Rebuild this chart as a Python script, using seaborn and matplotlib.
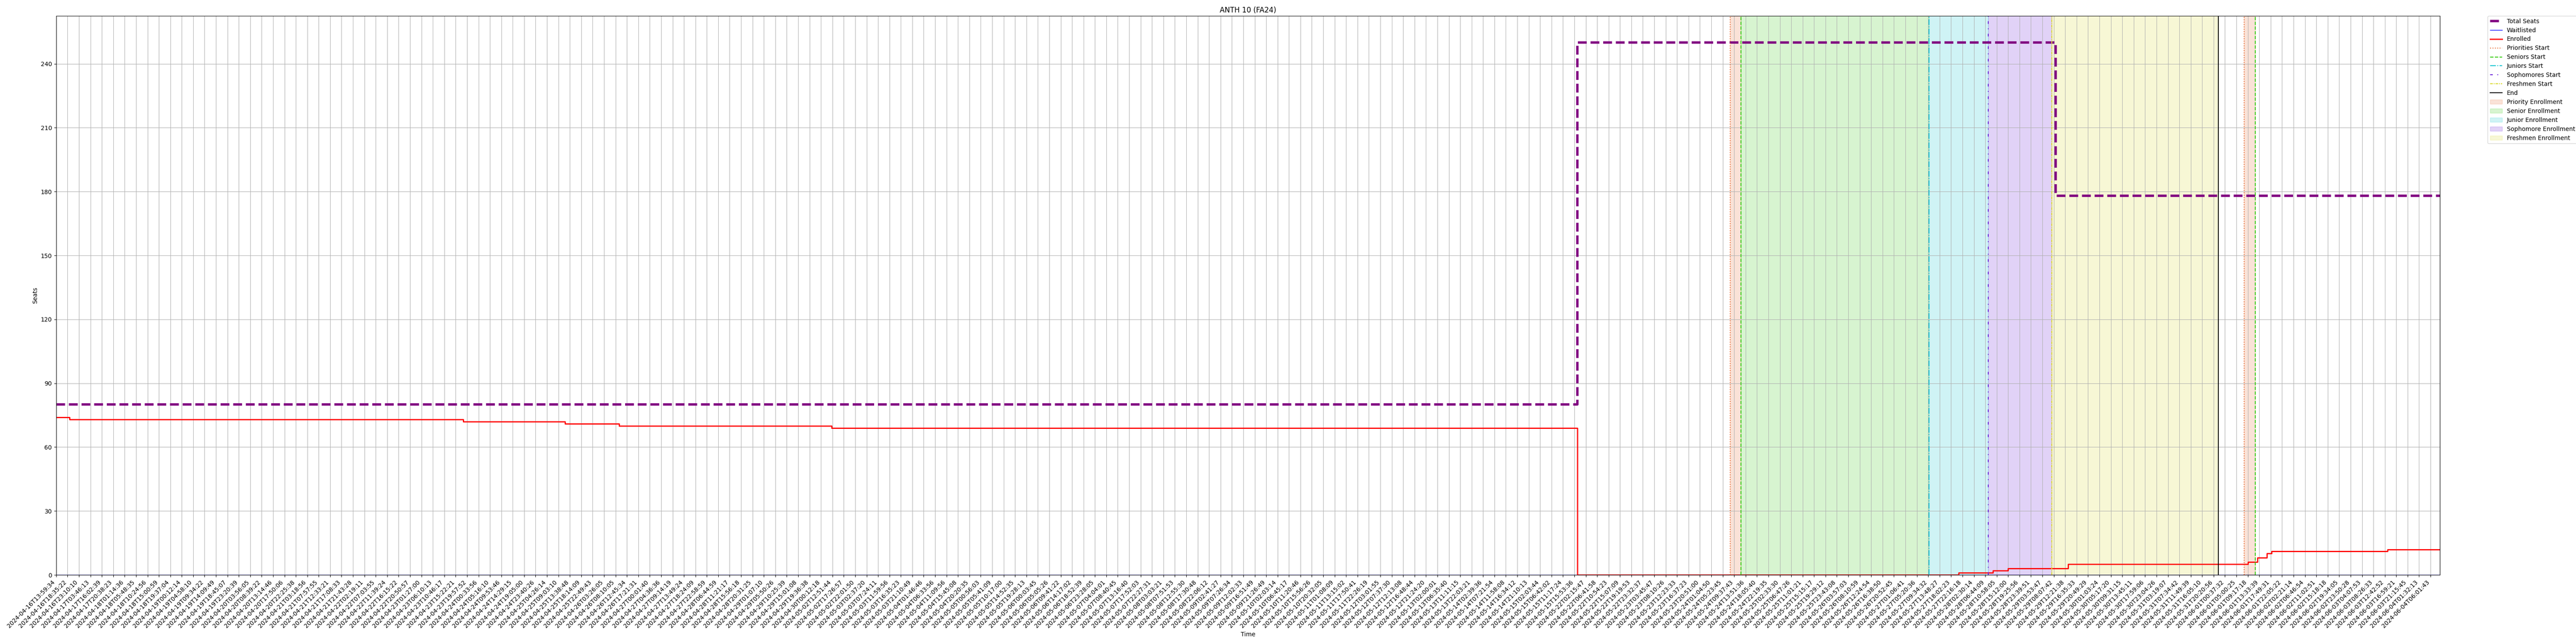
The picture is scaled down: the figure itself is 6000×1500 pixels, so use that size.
import numpy as np
import pandas as pd
import matplotlib
matplotlib.use("Agg")
import matplotlib.pyplot as plt
import seaborn as sns

# Snapshot index runs 0..2506, one tick label every 12 snapshots.
n_samples = 2507
tick_step = 12

tick_labels = [
    "2024-04-16T13:59:34", "2024-04-16T18:35:22", "2024-04-16T23:10:10", "2024-04-17T03:46:13",
    "2024-04-17T16:02:39", "2024-04-17T20:38:23", "2024-04-18T01:14:36", "2024-04-18T05:48:35",
    "2024-04-18T10:24:56", "2024-04-18T15:00:59", "2024-04-18T19:37:04", "2024-04-19T00:12:14",
    "2024-04-19T04:58:10", "2024-04-19T09:34:22", "2024-04-19T14:09:49", "2024-04-19T18:45:07",
    "2024-04-19T23:20:39", "2024-04-20T03:56:05", "2024-04-20T08:39:22", "2024-04-20T13:14:46",
    "2024-04-20T17:50:06", "2024-04-20T22:25:38", "2024-04-21T03:18:56", "2024-04-21T07:57:55",
    "2024-04-21T12:33:21", "2024-04-21T17:08:33", "2024-04-21T21:43:28", "2024-04-22T02:19:11",
    "2024-04-22T07:03:55", "2024-04-22T11:39:24", "2024-04-22T16:15:22", "2024-04-22T20:50:57",
    "2024-04-23T01:27:00", "2024-04-23T06:10:13", "2024-04-23T10:46:17", "2024-04-23T15:22:21",
    "2024-04-23T19:57:52", "2024-04-24T00:33:56", "2024-04-24T05:16:10", "2024-04-24T09:53:46",
    "2024-04-24T14:29:15", "2024-04-24T19:05:00", "2024-04-24T23:40:26", "2024-04-25T04:26:14",
    "2024-04-25T09:03:10", "2024-04-25T13:38:48", "2024-04-25T18:14:09", "2024-04-25T22:49:43",
    "2024-04-26T03:26:05", "2024-04-26T08:10:05", "2024-04-26T12:45:34", "2024-04-26T17:21:31",
    "2024-04-27T00:01:40", "2024-04-27T04:36:36", "2024-04-27T09:14:19", "2024-04-27T13:49:24",
    "2024-04-27T18:24:09", "2024-04-27T22:58:59", "2024-04-28T06:44:59", "2024-04-28T11:21:17",
    "2024-04-28T15:56:18", "2024-04-28T20:31:25", "2024-04-29T01:07:10", "2024-04-29T05:50:26",
    "2024-04-29T10:25:39", "2024-04-29T15:01:08", "2024-04-29T19:36:38", "2024-04-30T00:12:18",
    "2024-05-02T12:51:44", "2024-05-02T17:26:57", "2024-05-02T22:01:50", "2024-05-03T02:37:20",
    "2024-05-03T07:24:11", "2024-05-03T11:59:56", "2024-05-03T16:35:23", "2024-05-03T21:10:49",
    "2024-05-04T01:46:46", "2024-05-04T06:33:56", "2024-05-04T11:09:56", "2024-05-04T15:45:08",
    "2024-05-04T20:20:35", "2024-05-05T00:56:03", "2024-05-05T05:41:09", "2024-05-05T10:17:00",
    "2024-05-05T14:52:35", "2024-05-05T19:28:13", "2024-05-06T00:03:45", "2024-05-06T05:05:26",
    "2024-05-06T09:41:22", "2024-05-06T14:17:02", "2024-05-06T18:52:39", "2024-05-06T23:28:05",
    "2024-05-07T04:04:01", "2024-05-07T08:40:45", "2024-05-07T13:16:40", "2024-05-07T17:52:03",
    "2024-05-07T22:27:31", "2024-05-08T03:03:21", "2024-05-08T07:51:53", "2024-05-08T12:55:30",
    "2024-05-08T17:30:48", "2024-05-08T22:06:12", "2024-05-09T02:41:27", "2024-05-09T07:26:34",
    "2024-05-09T12:02:33", "2024-05-09T16:51:49", "2024-05-09T21:26:49", "2024-05-10T02:03:14",
    "2024-05-10T06:45:17", "2024-05-10T11:20:46", "2024-05-10T15:56:26", "2024-05-10T20:32:05",
    "2024-05-11T01:08:09", "2024-05-11T13:15:02", "2024-05-11T17:50:41", "2024-05-11T22:26:19",
    "2024-05-12T03:01:55", "2024-05-12T07:37:30", "2024-05-12T12:13:08", "2024-05-12T16:48:44",
    "2024-05-12T21:24:20", "2024-05-13T02:00:01", "2024-05-13T06:35:40", "2024-05-13T11:11:15",
    "2024-05-13T22:03:21", "2024-05-14T02:39:36", "2024-05-14T07:21:54", "2024-05-14T11:58:08",
    "2024-05-14T16:34:12", "2024-05-14T21:10:13", "2024-05-15T02:03:44", "2024-05-15T06:42:02",
    "2024-05-15T11:17:24", "2024-05-15T15:53:36", "2024-05-22T02:15:47", "2024-05-22T06:41:58",
    "2024-05-22T10:54:23", "2024-05-22T15:07:09", "2024-05-22T19:19:53", "2024-05-22T23:32:37",
    "2024-05-23T03:45:47", "2024-05-23T08:10:26", "2024-05-23T12:23:33", "2024-05-23T16:37:23",
    "2024-05-23T20:51:00", "2024-05-24T01:04:50", "2024-05-24T05:23:45", "2024-05-24T09:37:43",
    "2024-05-24T13:51:36", "2024-05-24T18:05:40", "2024-05-24T22:19:35", "2024-05-25T02:33:30",
    "2024-05-25T06:47:26", "2024-05-25T11:01:21", "2024-05-25T15:15:17", "2024-05-25T19:29:12",
    "2024-05-25T23:43:08", "2024-05-26T03:57:03", "2024-05-26T08:10:59", "2024-05-26T12:24:54",
    "2024-05-26T16:38:50", "2024-05-26T20:52:45", "2024-05-27T01:06:41", "2024-05-27T05:20:36",
    "2024-05-27T09:34:32", "2024-05-27T13:48:27", "2024-05-27T18:02:23", "2024-05-27T22:16:18",
    "2024-05-28T02:30:14", "2024-05-28T06:44:09", "2024-05-28T10:58:05", "2024-05-28T15:12:00",
    "2024-05-28T19:25:56", "2024-05-28T23:39:51", "2024-05-29T03:53:47", "2024-05-29T08:07:42",
    "2024-05-29T12:21:38", "2024-05-29T16:35:33", "2024-05-29T20:49:29", "2024-05-30T01:03:24",
    "2024-05-30T05:17:20", "2024-05-30T09:31:15", "2024-05-30T13:45:11", "2024-05-30T17:59:06",
    "2024-05-30T23:04:26", "2024-05-31T03:19:07", "2024-05-31T07:34:42", "2024-05-31T11:49:39",
    "2024-05-31T16:05:10", "2024-05-31T20:20:56", "2024-06-01T00:37:32", "2024-06-01T05:00:25",
    "2024-06-01T09:17:18", "2024-06-01T13:33:39", "2024-06-01T17:49:31", "2024-06-01T22:05:22",
    "2024-06-02T02:21:14", "2024-06-02T06:46:54", "2024-06-02T11:02:51", "2024-06-02T15:18:18",
    "2024-06-02T19:34:05", "2024-06-02T23:50:28", "2024-06-03T04:07:53", "2024-06-03T08:26:33",
    "2024-06-03T12:42:52", "2024-06-03T16:59:21", "2024-06-03T21:15:45", "2024-06-04T01:32:13",
    "2024-06-04T06:01:43",
]

# Step series: snapshot index where the value changes, and the new value.
total_seats_idx = [0, 1599, 2102]
total_seats_val = [80, 250, 178]

enrolled_idx = [0, 14, 428, 535, 592, 815, 1599, 2000, 2036, 2052, 2115, 2304, 2314, 2324, 2329, 2451]
enrolled_val = [74, 73, 72, 71, 70, 69, 0, 1, 2, 3, 5, 6, 8, 10, 11, 12]

waitlisted_idx = [0]
waitlisted_val = [0]

# Enrollment window boundaries (snapshot index).
priorities_start = [1760, 2300]
seniors_start = [1771, 2312]
juniors_start = [1969]
sophomores_start = [2031]
freshmen_start = [2098]
end_idx = [2273]


def step_frame(idx, val):
    return pd.DataFrame({"x": idx + [n_samples - 1], "y": val + [val[-1]]})


fig, ax = plt.subplots(figsize=(60, 15), dpi=100)

sns.lineplot(data=step_frame(total_seats_idx, total_seats_val), x="x", y="y", ax=ax,
             drawstyle="steps-post", color="purple", linestyle="--", linewidth=4,
             label="Total Seats", estimator=None)
sns.lineplot(data=step_frame(waitlisted_idx, waitlisted_val), x="x", y="y", ax=ax,
             drawstyle="steps-post", color="blue", linewidth=1,
             label="Waitlisted", estimator=None)
sns.lineplot(data=step_frame(enrolled_idx, enrolled_val), x="x", y="y", ax=ax,
             drawstyle="steps-post", color="red", linewidth=2,
             label="Enrolled", estimator=None)

# Vertical markers for each enrollment phase.
events = [
    ("Priorities Start", priorities_start, "#E8703A", ":"),
    ("Seniors Start", seniors_start, "#38CC14", "--"),
    ("Juniors Start", juniors_start, "#10C4D0", "-."),
    ("Sophomores Start", sophomores_start, "#6A22D8", (0, (3, 5, 1, 5))),
    ("Freshmen Start", freshmen_start, "#DADA30", (0, (3, 1, 1, 1))),
]
for name, positions, color, ls in events:
    for i, pos in enumerate(positions):
        ax.axvline(pos, color=color, linestyle=ls, linewidth=1.5,
                   label=name if i == 0 else None)
ax.axvline(end_idx[0], color="black", linewidth=1.5, label="End")

# Shaded enrollment windows.
ax.axvspan(priorities_start[0], seniors_start[0], color="#E8703A", alpha=0.2, label="Priority Enrollment")
ax.axvspan(seniors_start[0], juniors_start[0], color="#38CC14", alpha=0.2, label="Senior Enrollment")
ax.axvspan(juniors_start[0], sophomores_start[0], color="#10C4D0", alpha=0.2, label="Junior Enrollment")
ax.axvspan(sophomores_start[0], freshmen_start[0], color="#6A22D8", alpha=0.2, label="Sophomore Enrollment")
ax.axvspan(freshmen_start[0], end_idx[0], color="#DADA30", alpha=0.2, label="Freshmen Enrollment")
ax.axvspan(priorities_start[1], seniors_start[1], color="#E8703A", alpha=0.2)

ax.set_xlim(0, n_samples - 1)
ax.set_ylim(0, max(total_seats_val) * 1.05)
ax.set_xticks(np.arange(0, n_samples, tick_step))
ax.set_xticklabels(tick_labels, rotation=45, ha="right")
ax.set_yticks(np.arange(0, 250, 30))
ax.grid(True)
ax.set_title("ANTH 10 (FA24)")
ax.set_xlabel("Time")
ax.set_ylabel("Seats")
ax.legend(bbox_to_anchor=(1.02, 1), loc="upper left", borderaxespad=0)

fig.subplots_adjust(left=0.0218, right=0.9472, top=0.9753, bottom=0.1073)
fig.savefig("out.png")
